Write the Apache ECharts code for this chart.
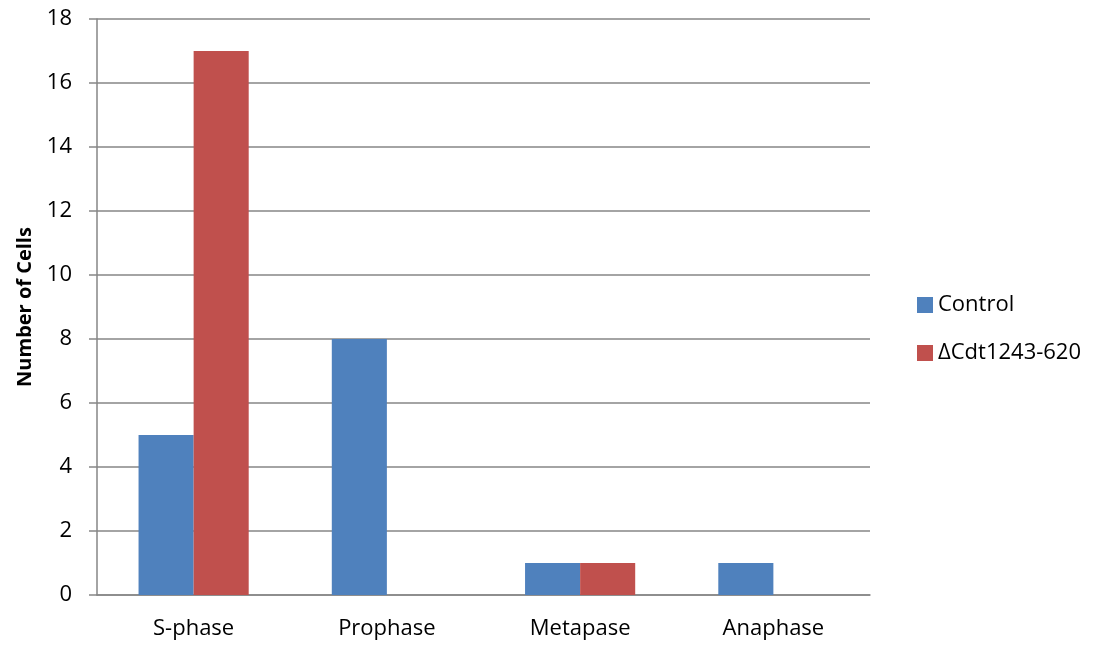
<!DOCTYPE html>
<html>
<head>
<meta charset="utf-8">
<script src="https://cdn.jsdelivr.net/npm/echarts@6/dist/echarts.min.js"></script>
<style>
  html, body { margin: 0; padding: 0; background: #fff; }
  #chart { width: 1101px; height: 646px; }
</style>
</head>
<body>
<div id="chart"></div>
<script>
// Cell counts per mitotic phase
const categories = ['S-phase', 'Prophase', 'Metapase', 'Anaphase'];
const controlValues = [5, 8, 1, 1];
const mutantValues = [17, 0, 1, 0];
const seriesNames = ['Control', 'ΔCdt1243-620'];

const font = '"Open Sans", "Liberation Sans", sans-serif';
const chart = echarts.init(document.getElementById('chart'));

chart.setOption({
  animation: false,
  grid: { left: 97, right: 231, top: 19, bottom: 51 },
  legend: {
    orient: 'vertical',
    left: 912,
    top: 289,
    itemWidth: 16,
    itemHeight: 16,
    itemGap: 26,
    icon: 'rect',
    textStyle: { fontFamily: font, fontSize: 22, color: '#000' },
    data: seriesNames
  },
  xAxis: {
    type: 'category',
    data: categories,
    axisLine: { lineStyle: { color: '#868686', width: 1.5 } },
    axisTick: { show: false },
    axisLabel: { fontFamily: font, fontSize: 22, color: '#000', margin: 23 }
  },
  yAxis: {
    type: 'value',
    min: 0,
    max: 18,
    interval: 2,
    name: 'Number of Cells',
    nameLocation: 'middle',
    nameGap: 62,
    nameTextStyle: { fontFamily: font, fontSize: 20, fontWeight: 'bold', color: '#000' },
    axisLine: { show: true, lineStyle: { color: '#868686', width: 1.5 } },
    axisTick: { show: true, length: 8, lineStyle: { color: '#868686', width: 1.5 } },
    axisLabel: { fontFamily: font, fontSize: 22, color: '#000', margin: 25 },
    splitLine: { lineStyle: { color: '#868686', width: 1.5 } }
  },
  series: [
    {
      name: seriesNames[0],
      type: 'bar',
      data: controlValues,
      barGap: '0%',
      barCategoryGap: '43%',
      itemStyle: { color: '#4f81bd' }
    },
    {
      name: seriesNames[1],
      type: 'bar',
      data: mutantValues,
      itemStyle: { color: '#c0504d' }
    }
  ]
});
</script>
</body>
</html>
